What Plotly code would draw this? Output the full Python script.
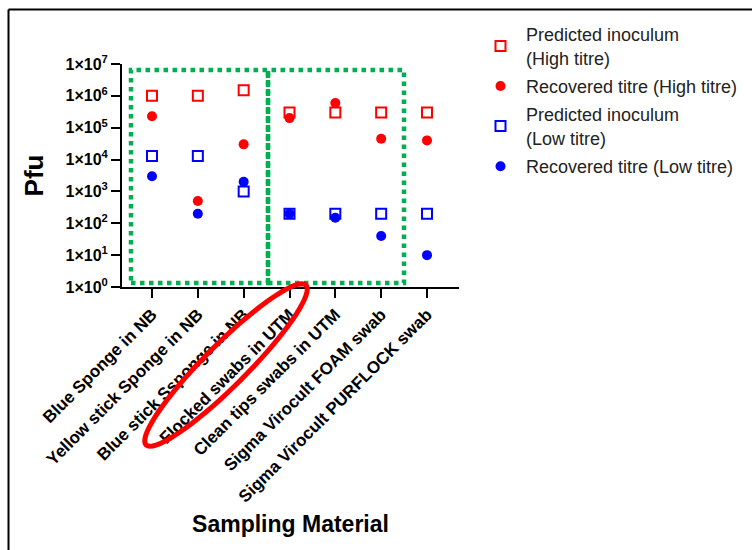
import math
import plotly.graph_objects as go

# Sampling materials (x categories)
materials = [
    "Blue Sponge in NB",
    "Yellow stick Sponge in NB",
    "Blue stick Ssponge in NB",
    "Flocked swabs in UTM",
    "Clean tips swabs in UTM",
    "Sigma Virocult FOAM swab",
    "Sigma Virocult PURFLOCK swab",
]

# Titres (Pfu)
predicted_high = [1.0e6, 1.0e6, 1.5e6, 3.0e5, 3.0e5, 3.0e5, 3.0e5]
recovered_high = [2.3e5, 5.0e2, 3.0e4, 2.0e5, 6.0e5, 4.5e4, 4.0e4]
predicted_low = [1.3e4, 1.3e4, 1.0e3, 2.0e2, 2.0e2, 2.0e2, 2.0e2]
recovered_low = [3.0e3, 2.0e2, 2.0e3, 2.0e2, 1.5e2, 4.0e1, 1.0e1]

# Y axis ticks
tick_exponents = [0, 1, 2, 3, 4, 5, 6, 7]
tick_values = [10 ** e for e in tick_exponents]
tick_labels = [f"1×10<sup>{e}</sup>" for e in tick_exponents]

W, H = 752, 550
L, R, T, B = 122, 459, 64, 287  # plot area in pixels

FONT = "Liberation Sans, Arial, sans-serif"
RED = "#FF0000"
BLUE = "#0000FF"
GREEN = "#00B050"


def px(x):
    return (x - L) / (R - L)


def py(y):
    return (B - y) / (B - T)


fig = go.Figure()

series = [
    ("Predicted inoculum<br>(High titre)", predicted_high, "square-open", RED),
    ("Recovered titre (High titre)", recovered_high, "circle", RED),
    ("Predicted inoculum<br>(Low titre)", predicted_low, "square-open", BLUE),
    ("Recovered titre (Low titre)", recovered_low, "circle", BLUE),
]
for i, (name, values, symbol, color) in enumerate(series):
    line = dict(width=2, color=color) if symbol == "square-open" else dict(width=0)
    fig.add_trace(go.Scatter(
        x=materials, y=values, mode="markers", name=name,
        legendgroup=f"g{i}",
        marker=dict(symbol=symbol, size=10, color=color, line=line),
    ))

shapes = []

# Dotted group boxes
for (x0, x1) in [(131, 268), (268, 404)]:
    shapes.append(dict(
        type="rect", xref="paper", yref="paper",
        x0=px(x0), x1=px(x1), y0=py(283), y1=py(70),
        line=dict(color=GREEN, width=4.5, dash="4.5px,4.5px"),
        fillcolor="rgba(0,0,0,0)", layer="above",
    ))

# Outer frame (top and left edges)
shapes.append(dict(type="line", xref="paper", yref="paper",
                   x0=px(8.5), x1=px(760), y0=py(9.5), y1=py(9.5),
                   line=dict(color="black", width=2)))
shapes.append(dict(type="line", xref="paper", yref="paper",
                   x0=px(8.5), x1=px(8.5), y0=py(9.5), y1=py(560),
                   line=dict(color="black", width=2)))

# Red ellipse highlighting the flocked swab label
cx, cy, a, b = 226, 365, 113, 21
ang = math.radians(45)
pts = []
for i in range(73):
    t = 2 * math.pi * i / 72
    ex = a * math.cos(t)
    ey = b * math.sin(t)
    xx = cx + ex * math.cos(ang) - ey * math.sin(ang)
    yy = cy - (ex * math.sin(ang) + ey * math.cos(ang))
    pts.append((px(xx), py(yy)))
path = "M " + " L ".join(f"{x:.5f},{y:.5f}" for x, y in pts) + " Z"
shapes.append(dict(type="path", xref="paper", yref="paper", path=path,
                   line=dict(color=RED, width=5), fillcolor="rgba(0,0,0,0)"))

step = 45.83
fig.update_layout(
    width=W, height=H,
    margin=dict(l=L, r=W - R, t=T, b=H - B, pad=0, autoexpand=False),
    paper_bgcolor="white", plot_bgcolor="white",
    font=dict(family=FONT, color="black"),
    showlegend=True,
    legend=dict(
        x=px(475), y=py(16), xanchor="left", yanchor="top",
        itemwidth=41, tracegroupgap=2,
        font=dict(family=FONT, size=18, color="#222222"),
        bgcolor="rgba(0,0,0,0)", borderwidth=0,
    ),
    xaxis=dict(
        type="category",
        range=[(L - 152) / step, 6 + (R - 427) / step],
        showline=True, linecolor="black", linewidth=2,
        ticks="outside", ticklen=9, tickwidth=2, tickcolor="black",
        tickangle=-45, showgrid=False, zeroline=False,
        tickfont=dict(family=FONT, size=17, color="black", weight="bold"),
        title=dict(text="Sampling Material", standoff=11,
                   font=dict(family=FONT, size=23, color="black", weight="bold")),
        automargin=False,
    ),
    yaxis=dict(
        type="log", range=[0, 7],
        tickvals=tick_values, ticktext=tick_labels,
        showline=True, linecolor="black", linewidth=2,
        ticks="outside", ticklen=9, tickwidth=2, tickcolor="black",
        showgrid=False, zeroline=False,
        tickfont=dict(family=FONT, size=16, color="black", weight="bold"),
        title=dict(text="Pfu", standoff=14,
                   font=dict(family=FONT, size=26, color="black", weight="bold")),
        automargin=False,
    ),
    shapes=shapes,
)

fig.write_html("out.html")
